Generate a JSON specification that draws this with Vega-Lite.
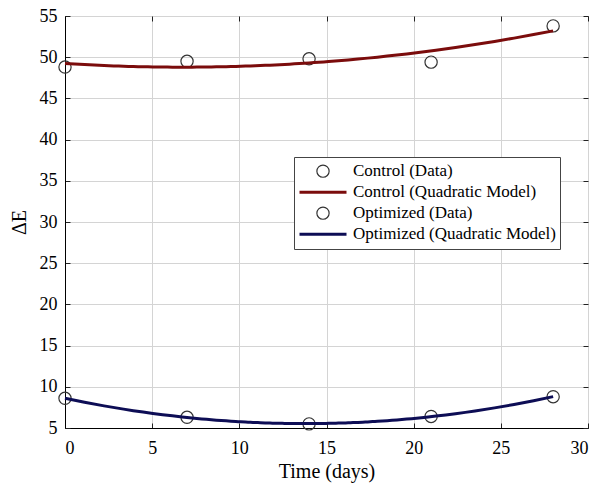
{
  "$schema": "https://vega.github.io/schema/vega-lite/v6.json",
  "width": 523,
  "height": 412,
  "autosize": {"type": "none"},
  "padding": {"left": 65, "top": 16, "right": 9, "bottom": 59},
  "background": "white",
  "config": {
    "font": "Liberation Serif",
    "view": {"stroke": "black", "strokeWidth": 1},
    "axis": {
      "labelFont": "Liberation Serif",
      "titleFont": "Liberation Serif",
      "labelFontSize": 18,
      "titleFontSize": 20,
      "titleFontWeight": "normal",
      "labelColor": "black",
      "titleColor": "black",
      "domainColor": "black",
      "tickColor": "#222222",
      "gridColor": "#d4d4d4",
      "gridOpacity": 1,
      "tickSize": -5,
      "labelPadding": 10
    },
    "legend": {
      "labelFont": "Liberation Serif",
      "labelFontSize": 17,
      "labelColor": "black",
      "labelLimit": 400
    }
  },
  "resolve": {"axis": {"x": "independent", "y": "independent"}},
  "data": {
    "values": [
      {"day": 0, "dE": 48.8, "data_label": "Control (Data)", "model_label": "Control (Quadratic Model)"},
      {"day": 7, "dE": 49.5, "data_label": "Control (Data)", "model_label": "Control (Quadratic Model)"},
      {"day": 14, "dE": 49.8, "data_label": "Control (Data)", "model_label": "Control (Quadratic Model)"},
      {"day": 21, "dE": 49.4, "data_label": "Control (Data)", "model_label": "Control (Quadratic Model)"},
      {"day": 28, "dE": 53.8, "data_label": "Control (Data)", "model_label": "Control (Quadratic Model)"},
      {"day": 0, "dE": 8.6, "data_label": "Optimized (Data)", "model_label": "Optimized (Quadratic Model)"},
      {"day": 7, "dE": 6.3, "data_label": "Optimized (Data)", "model_label": "Optimized (Quadratic Model)"},
      {"day": 14, "dE": 5.5, "data_label": "Optimized (Data)", "model_label": "Optimized (Quadratic Model)"},
      {"day": 21, "dE": 6.4, "data_label": "Optimized (Data)", "model_label": "Optimized (Quadratic Model)"},
      {"day": 28, "dE": 8.8, "data_label": "Optimized (Data)", "model_label": "Optimized (Quadratic Model)"}
    ]
  },
  "layer": [
    {
      "mark": {"type": "point", "filled": false, "opacity": 1},
      "encoding": {
        "x": {
          "field": "day", "type": "quantitative",
          "scale": {"domain": [0, 30], "nice": false},
          "axis": {"title": "Time (days)", "values": [0, 5, 10, 15, 20, 25, 30], "labelPadding": 16, "titlePadding": 4}
        },
        "y": {
          "field": "dE", "type": "quantitative",
          "scale": {"domain": [5, 55], "nice": false, "zero": false},
          "axis": {"title": "ΔE", "values": [5, 10, 15, 20, 25, 30, 35, 40, 45, 50, 55], "labelPadding": 13, "titleX": -36}
        },
        "color": {
          "field": "data_label", "type": "nominal",
          "scale": {
            "domain": ["Control (Data)", "Control (Quadratic Model)", "Optimized (Data)", "Optimized (Quadratic Model)"],
            "range": ["#333333", "#7b0c0c", "#333333", "#0d0d55"]
          },
          "legend": {
            "title": null,
            "orient": "none",
            "legendX": 229,
            "legendY": 141,
            "fillColor": "white",
            "strokeColor": "#444444",
            "padding": 4,
            "cornerRadius": 0,
            "labelOffset": 5,
            "clipHeight": 20.3,
            "rowPadding": 0
          }
        },
        "shape": {
          "field": "data_label", "type": "nominal",
          "scale": {
            "domain": ["Control (Data)", "Control (Quadratic Model)", "Optimized (Data)", "Optimized (Quadratic Model)"],
            "range": ["circle", "stroke", "circle", "stroke"]
          }
        },
        "size": {
          "field": "data_label", "type": "nominal",
          "scale": {
            "type": "ordinal",
            "domain": ["Control (Data)", "Control (Quadratic Model)", "Optimized (Data)", "Optimized (Quadratic Model)"],
            "range": [150, 2209, 150, 2209]
          }
        },
        "strokeWidth": {
          "field": "data_label", "type": "nominal",
          "scale": {
            "type": "ordinal",
            "domain": ["Control (Data)", "Control (Quadratic Model)", "Optimized (Data)", "Optimized (Quadratic Model)"],
            "range": [1.2, 3, 1.2, 3]
          }
        }
      }
    },
    {
      "transform": [
        {"regression": "dE", "on": "day", "method": "poly", "order": 2, "groupby": ["model_label"]}
      ],
      "mark": {"type": "line", "strokeWidth": 3},
      "encoding": {
        "x": {
          "field": "day", "type": "quantitative",
          "axis": {"orient": "top", "title": null, "labels": false, "grid": false, "domain": false, "values": [0, 5, 10, 15, 20, 25, 30]}
        },
        "y": {
          "field": "dE", "type": "quantitative",
          "axis": {"orient": "right", "title": null, "labels": false, "grid": false, "domain": false, "values": [5, 10, 15, 20, 25, 30, 35, 40, 45, 50, 55]}
        },
        "color": {"field": "model_label", "type": "nominal"}
      }
    }
  ]
}
